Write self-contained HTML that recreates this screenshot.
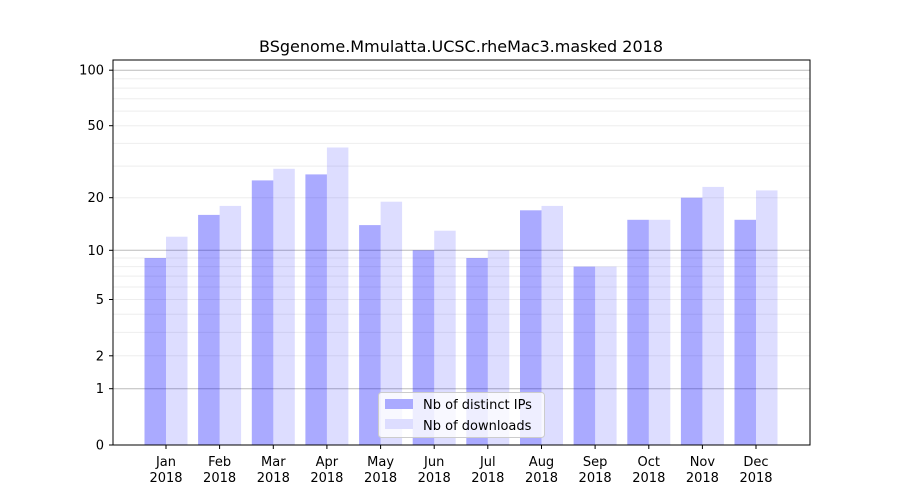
<!DOCTYPE html>
<html><head><style>body{margin:0;background:#fff}svg{display:block}text{font-family:"DejaVu Sans","Liberation Sans",sans-serif;fill:#000}</style></head>
<body>
<svg width="900" height="500" xmlns="http://www.w3.org/2000/svg">
<rect width="900" height="500" fill="#fff"/>
<g stroke="#eee" stroke-width="1">
<line x1="113" x2="810" y1="355.8" y2="355.8"/><line x1="113" x2="810" y1="332.4" y2="332.4"/><line x1="113" x2="810" y1="314.3" y2="314.3"/><line x1="113" x2="810" y1="299.5" y2="299.5"/><line x1="113" x2="810" y1="287" y2="287"/><line x1="113" x2="810" y1="276.1" y2="276.1"/><line x1="113" x2="810" y1="266.6" y2="266.6"/><line x1="113" x2="810" y1="258" y2="258"/>
<line x1="113" x2="810" y1="197.7" y2="197.7"/><line x1="113" x2="810" y1="166.1" y2="166.1"/><line x1="113" x2="810" y1="143.4" y2="143.4"/><line x1="113" x2="810" y1="125.7" y2="125.7"/><line x1="113" x2="810" y1="111.1" y2="111.1"/><line x1="113" x2="810" y1="98.8" y2="98.8"/><line x1="113" x2="810" y1="88.1" y2="88.1"/><line x1="113" x2="810" y1="78.7" y2="78.7"/>
</g>
<g stroke="#bbb" stroke-width="1">
<line x1="113" x2="810" y1="388.7" y2="388.7"/><line x1="113" x2="810" y1="250.3" y2="250.3"/><line x1="113" x2="810" y1="70.2" y2="70.2"/>
</g>
<g fill="#0000ff" fill-opacity="0.333">
<rect x="144.5" y="258" width="21.5" height="187"/>
<rect x="198.1" y="214.9" width="21.5" height="230.1"/>
<rect x="251.8" y="180.4" width="21.5" height="264.6"/>
<rect x="305.4" y="174.4" width="21.5" height="270.6"/>
<rect x="359.1" y="225.1" width="21.5" height="219.9"/>
<rect x="412.7" y="250.3" width="21.5" height="194.7"/>
<rect x="466.3" y="258" width="21.5" height="187"/>
<rect x="520" y="210.3" width="21.5" height="234.7"/>
<rect x="573.6" y="266.6" width="21.5" height="178.4"/>
<rect x="627.3" y="219.8" width="21.5" height="225.2"/>
<rect x="680.9" y="197.7" width="21.5" height="247.3"/>
<rect x="734.5" y="219.8" width="21.5" height="225.2"/>
</g>
<g fill="#0000ff" fill-opacity="0.133">
<rect x="166" y="236.7" width="21.5" height="208.3"/>
<rect x="219.6" y="205.9" width="21.5" height="239.1"/>
<rect x="273.3" y="168.8" width="21.5" height="276.2"/>
<rect x="326.9" y="147.5" width="21.5" height="297.5"/>
<rect x="380.6" y="201.7" width="21.5" height="243.3"/>
<rect x="434.2" y="230.7" width="21.5" height="214.3"/>
<rect x="487.8" y="250.3" width="21.5" height="194.7"/>
<rect x="541.5" y="205.9" width="21.5" height="239.1"/>
<rect x="595.1" y="266.6" width="21.5" height="178.4"/>
<rect x="648.8" y="219.8" width="21.5" height="225.2"/>
<rect x="702.4" y="186.9" width="21.5" height="258.1"/>
<rect x="756" y="190.4" width="21.5" height="254.6"/>
</g>
<rect x="113" y="60" width="697" height="385" fill="none" stroke="#000" stroke-width="1"/>
<g stroke="#000">
<line x1="109" x2="113" y1="445" y2="445"/><line x1="109" x2="113" y1="388.7" y2="388.7"/><line x1="109" x2="113" y1="355.8" y2="355.8"/><line x1="109" x2="113" y1="299.5" y2="299.5"/><line x1="109" x2="113" y1="250.3" y2="250.3"/><line x1="109" x2="113" y1="197.7" y2="197.7"/><line x1="109" x2="113" y1="125.7" y2="125.7"/><line x1="109" x2="113" y1="70.2" y2="70.2"/>
<line x1="166" x2="166" y1="445" y2="449"/><line x1="219.6" x2="219.6" y1="445" y2="449"/><line x1="273.3" x2="273.3" y1="445" y2="449"/><line x1="326.9" x2="326.9" y1="445" y2="449"/><line x1="380.6" x2="380.6" y1="445" y2="449"/><line x1="434.2" x2="434.2" y1="445" y2="449"/><line x1="487.8" x2="487.8" y1="445" y2="449"/><line x1="541.5" x2="541.5" y1="445" y2="449"/><line x1="595.1" x2="595.1" y1="445" y2="449"/><line x1="648.8" x2="648.8" y1="445" y2="449"/><line x1="702.4" x2="702.4" y1="445" y2="449"/><line x1="756" x2="756" y1="445" y2="449"/>
</g>
<g font-size="13" text-anchor="end">
<text x="104" y="449.5">0</text><text x="104" y="393.2">1</text><text x="104" y="360.3">2</text><text x="104" y="304">5</text><text x="104" y="254.8">10</text><text x="104" y="202.2">20</text><text x="104" y="130.2">50</text><text x="104" y="74.7">100</text>
</g>
<g font-size="13" text-anchor="middle">
<text x="166" y="466">Jan</text><text x="166" y="482">2018</text>
<text x="219.6" y="466">Feb</text><text x="219.6" y="482">2018</text>
<text x="273.3" y="466">Mar</text><text x="273.3" y="482">2018</text>
<text x="326.9" y="466">Apr</text><text x="326.9" y="482">2018</text>
<text x="380.6" y="466">May</text><text x="380.6" y="482">2018</text>
<text x="434.2" y="466">Jun</text><text x="434.2" y="482">2018</text>
<text x="487.8" y="466">Jul</text><text x="487.8" y="482">2018</text>
<text x="541.5" y="466">Aug</text><text x="541.5" y="482">2018</text>
<text x="595.1" y="466">Sep</text><text x="595.1" y="482">2018</text>
<text x="648.8" y="466">Oct</text><text x="648.8" y="482">2018</text>
<text x="702.4" y="466">Nov</text><text x="702.4" y="482">2018</text>
<text x="756" y="466">Dec</text><text x="756" y="482">2018</text>
</g>
<text x="461" y="52" font-size="16" text-anchor="middle">BSgenome.Mmulatta.UCSC.rheMac3.masked 2018</text>
<g>
<rect x="378.5" y="392.5" width="166" height="45" rx="3" fill="#fff" fill-opacity="0.8" stroke="#ccc"/>
<rect x="385" y="399" width="28" height="10" fill="#aaaaff"/>
<rect x="385" y="419" width="28" height="10" fill="#ddddff"/>
<text x="423" y="409" font-size="13">Nb of distinct IPs</text>
<text x="423" y="430" font-size="13">Nb of downloads</text>
</g>
</svg>
</body></html>
